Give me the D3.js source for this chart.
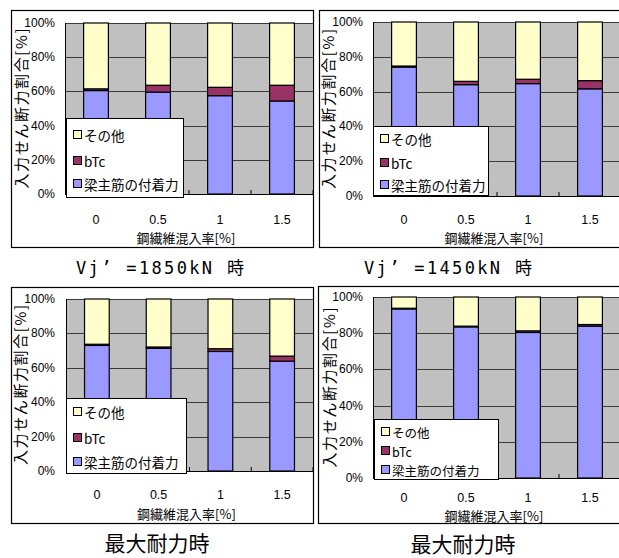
<!DOCTYPE html>
<html>
<head>
<meta charset="utf-8">
<script src="https://cdn.jsdelivr.net/npm/d3@7"></script>
<style>
  body { margin: 0; background: #fff; }
  svg { display: block; }
  text { font-family: "Noto Sans CJK JP", sans-serif; fill: #000; }
  .num { font-family: "Liberation Sans Narrow", "Liberation Sans", sans-serif; }
</style>
</head>
<body>
<svg id="chart" width="619" height="558"></svg>
<script>
// x categories (steel fibre ratio) and series names
const categories = ['0', '0.5', '1', '1.5'];
const seriesNames = ['梁主筋の付着力', 'bTc', 'その他'];
const seriesColors = ['#9999ff', '#993366', '#ffffcc'];
const yTicks = [0, 20, 40, 60, 80, 100];

// Vj' = 1850kN
const bond1850  = [60.5, 59.6, 57.5, 54.4];
const btc1850   = [1.0, 4.0, 4.9, 9.2];
const other1850 = [38.5, 36.4, 37.6, 36.4];

// Vj' = 1450kN
const bond1450  = [74.1, 64.0, 64.6, 61.6];
const btc1450   = [0.6, 1.9, 2.5, 4.7];
const other1450 = [25.3, 34.1, 32.9, 33.7];

// max strength (left)
const bondMaxA  = [73.0, 71.3, 69.5, 63.9];
const btcMaxA   = [0.7, 0.8, 1.6, 2.9];
const otherMaxA = [26.3, 27.9, 28.9, 33.2];

// max strength (right)
const bondMaxB  = [93.4, 83.5, 80.4, 83.9];
const btcMaxB   = [0.4, 0.4, 0.9, 0.9];
const otherMaxB = [6.2, 16.1, 18.7, 15.2];

// layout of each of the four panels
const panels = [
  { values: [bond1850, btc1850, other1850], caption: 'Vj’ =1850kN 時', mono: true,
    frame: [11, 10, 302, 237], plot: [65, 23, 248, 171],
    legend: [66, 118, 117, 79], legendRows: [17, 43, 66], legendFont: 13.5,
    yTickRight: 55, yTitleX: 20, xTickY: 220, xTitleY: 237, captionX: 160, captionY: 268 },
  { values: [bond1450, btc1450, other1450], caption: 'Vj’ =1450kN 時', mono: true,
    frame: [319, 10, 320, 237], plot: [373, 22, 248, 174],
    legend: [373, 126, 115, 69], legendRows: [13, 37, 59], legendFont: 13.5,
    yTickRight: 363, yTitleX: 327, xTickY: 220, xTitleY: 237, captionX: 448, captionY: 268 },
  { values: [bondMaxA, btcMaxA, otherMaxA], caption: '最大耐力時', mono: false,
    frame: [11, 287, 302, 236], plot: [66, 299, 247, 172],
    legend: [66, 398, 120, 75], legendRows: [14, 40, 64], legendFont: 13.5,
    yTickRight: 55, yTitleX: 19, xTickY: 495, xTitleY: 513, captionX: 157, captionY: 542 },
  { values: [bondMaxB, btcMaxB, otherMaxB], caption: '最大耐力時', mono: false,
    frame: [318, 286, 320, 237], plot: [373, 297, 248, 181],
    legend: [374, 419, 124, 60], legendRows: [13, 32, 51], legendFont: 12.5,
    yTickRight: 363, yTitleX: 328, xTickY: 498, xTitleY: 515, captionX: 463, captionY: 543 }
];

const svg = d3.select('#chart');

function drawPanel(p, i) {
  const g = svg.append('g').attr('class', 'panel');
  const [fx, fy, fw, fh] = p.frame;
  const [left, top, width, height] = p.plot;

  // outer chart frame
  g.append('rect')
    .attr('x', fx + 0.5).attr('y', fy + 0.5)
    .attr('width', fw).attr('height', fh)
    .attr('fill', '#fff').attr('stroke', '#000').attr('stroke-width', 1.2);

  const x = d3.scaleBand()
    .domain(categories)
    .range([left, left + width])
    .paddingInner(0.6)
    .paddingOuter(0.3);

  const y = d3.scaleLinear()
    .domain([0, 100])
    .range([top + height, top]);

  // clip to the frame so panels on the right edge get cut like the original
  const clipId = 'clip' + i;
  g.append('clipPath').attr('id', clipId)
    .append('rect').attr('x', fx).attr('y', fy).attr('width', fw).attr('height', fh);

  const plotArea = g.append('g').attr('clip-path', `url(#${clipId})`);

  plotArea.append('rect')
    .attr('x', left).attr('y', top)
    .attr('width', width).attr('height', height)
    .attr('fill', '#c0c0c0');

  // horizontal gridlines
  plotArea.selectAll('line.grid')
    .data(yTicks.filter(d => d > 0))
    .join('line')
    .attr('class', 'grid')
    .attr('x1', left).attr('x2', left + width)
    .attr('y1', d => Math.round(y(d)) + 0.5).attr('y2', d => Math.round(y(d)) + 0.5)
    .attr('stroke', '#3a3a3a').attr('stroke-width', 1);

  // stacked bars
  const rows = categories.map((c, j) => {
    const row = { cat: c };
    seriesNames.forEach((s, k) => { row[s] = p.values[k][j]; });
    return row;
  });
  const stacked = d3.stack().keys(seriesNames)(rows);

  plotArea.selectAll('g.layer')
    .data(stacked)
    .join('g')
    .attr('class', 'layer')
    .attr('fill', (d, k) => seriesColors[k])
    .selectAll('rect')
    .data(d => d)
    .join('rect')
    .attr('x', d => x(d.data.cat))
    .attr('y', d => y(d[1]))
    .attr('width', x.bandwidth())
    .attr('height', d => y(d[0]) - y(d[1]))
    .attr('stroke', '#000')
    .attr('stroke-width', 1.2);

  // small tick marks between categories, pointing up
  const step = x.step();
  plotArea.selectAll('line.xtick')
    .data(categories)
    .join('line')
    .attr('class', 'xtick')
    .attr('x1', d => x(d) - step * x.paddingInner() / 2 + step)
    .attr('x2', d => x(d) - step * x.paddingInner() / 2 + step)
    .attr('y1', top + height).attr('y2', top + height - 4)
    .attr('stroke', '#000');

  // axis lines
  plotArea.append('line')
    .attr('x1', left).attr('x2', left + width)
    .attr('y1', top + height + 0.5).attr('y2', top + height + 0.5)
    .attr('stroke', '#000');
  plotArea.append('line')
    .attr('x1', left + 0.5).attr('x2', left + 0.5)
    .attr('y1', top).attr('y2', top + height)
    .attr('stroke', '#000');

  // y tick labels
  g.selectAll('text.ytick')
    .data(yTicks)
    .join('text')
    .attr('class', 'ytick num')
    .attr('x', p.yTickRight)
    .attr('y', d => y(d))
    .attr('text-anchor', 'end')
    .attr('dominant-baseline', 'central')
    .style('font-size', '12px')
    .text(d => d + '%');

  // x tick labels
  g.selectAll('text.xlab')
    .data(categories)
    .join('text')
    .attr('class', 'xlab num')
    .attr('x', d => x(d) + x.bandwidth() / 2)
    .attr('y', p.xTickY)
    .attr('text-anchor', 'middle')
    .attr('dominant-baseline', 'central')
    .style('font-size', '12.5px')
    .text(d => d);

  // axis titles
  g.append('text')
    .attr('x', left + width / 2 - 3)
    .attr('y', p.xTitleY)
    .attr('text-anchor', 'middle')
    .attr('dominant-baseline', 'central')
    .style('font-size', '13px')
    .text('鋼繊維混入率[%]');

  g.append('text')
    .attr('transform', `translate(${p.yTitleX},${top + height / 2}) rotate(-90)`)
    .attr('text-anchor', 'middle')
    .attr('dominant-baseline', 'central')
    .attr('textLength', 160)
    .attr('lengthAdjust', 'spacing')
    .style('font-size', '15px')
    .text('入力せん断力割合[%]');

  // legend
  const [lx, ly, lw, lh] = p.legend;
  const legend = g.append('g').attr('class', 'legend');
  legend.append('rect')
    .attr('x', lx + 0.5).attr('y', ly + 0.5)
    .attr('width', lw).attr('height', lh)
    .attr('fill', '#fff').attr('stroke', '#000');

  const legendOrder = [2, 1, 0];
  legendOrder.forEach((k, r) => {
    const cy = ly + p.legendRows[r];
    legend.append('rect')
      .attr('x', lx + 7.5).attr('y', cy - 4.5)
      .attr('width', 8).attr('height', 8)
      .attr('fill', seriesColors[k]).attr('stroke', '#000');
    legend.append('text')
      .attr('x', lx + 18)
      .attr('y', cy)
      .attr('dominant-baseline', 'central')
      .style('font-size', p.legendFont + 'px')
      .text(seriesNames[k]);
  });

  // caption under the panel
  const cap = g.append('text')
    .attr('x', p.captionX)
    .attr('y', p.captionY)
    .attr('text-anchor', 'middle')
    .attr('dominant-baseline', 'central')
    .text(p.caption);
  if (p.mono) {
    cap.style('font-family', '"DejaVu Sans Mono", "Noto Sans CJK JP", monospace')
      .style('font-size', '17px')
      .attr('textLength', 168)
      .attr('lengthAdjust', 'spacing');
  } else {
    cap.style('font-size', '21px');
  }
}

panels.forEach(drawPanel);
</script>
</body>
</html>
